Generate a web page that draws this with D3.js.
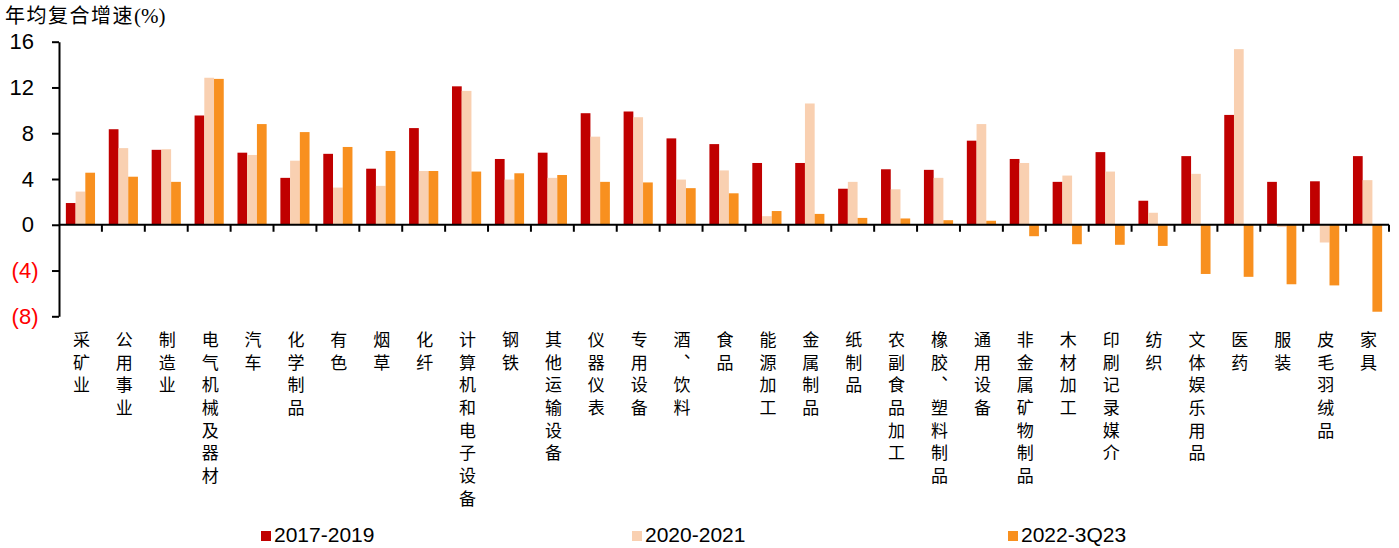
<!DOCTYPE html>
<html>
<head>
<meta charset="utf-8">
<script src="https://cdn.jsdelivr.net/npm/d3@7/dist/d3.min.js"></script>
<style>
  html, body { margin: 0; padding: 0; background: #fff; }
  svg { display: block; }
</style>
</head>
<body>
<svg id="chart" width="1399" height="548"></svg>
<script>
// Industry categories
const categories = [
  "采矿业", "公用事业", "制造业", "电气机械及器材", "汽车", "化学制品", "有色", "烟草",
  "化纤", "计算机和电子设备", "钢铁", "其他运输设备", "仪器仪表", "专用设备", "酒、饮料",
  "食品", "能源加工", "金属制品", "纸制品", "农副食品加工", "橡胶、塑料制品", "通用设备",
  "非金属矿物制品", "木材加工", "印刷记录媒介", "纺织", "文体娱乐用品", "医药", "服装",
  "皮毛羽绒品", "家具"
];

// Series names
const seriesNames = ["2017-2019", "2020-2021", "2022-3Q23"];

// CAGR values (%) per series, in category order
const values2017_2019 = [1.9, 8.35, 6.55, 9.55, 6.3, 4.1, 6.2, 4.9, 8.45, 12.1, 5.75, 6.3, 9.75, 9.9, 7.55,
  7.05, 5.4, 5.4, 3.15, 4.85, 4.8, 7.35, 5.75, 3.75, 6.35, 2.1, 6.0, 9.6, 3.75, 3.8, 6.0];
const values2020_2021 = [2.9, 6.7, 6.6, 12.85, 6.1, 5.6, 3.25, 3.4, 4.7, 11.7, 3.95, 4.1, 7.7, 9.4, 3.95,
  4.75, 0.75, 10.6, 3.75, 3.1, 4.1, 8.8, 5.4, 4.3, 4.65, 1.05, 4.45, 15.35, -0.2, -1.55, 3.9];
const values2022_3Q23 = [4.55, 4.2, 3.75, 12.75, 8.8, 8.1, 6.8, 6.45, 4.7, 4.65, 4.5, 4.35, 3.75, 3.7, 3.2,
  2.75, 1.2, 0.95, 0.6, 0.55, 0.4, 0.35, -1.0, -1.7, -1.75, -1.85, -4.3, -4.55, -5.2, -5.3, -7.6];

// Y-axis ticks
const yTicks = [-8, -4, 0, 4, 8, 12, 16];

const seriesValues = [values2017_2019, values2020_2021, values2022_3Q23];
const colors = ["#C00000", "#F9D0B1", "#F8901F"];

const svg = d3.select("#chart");
const plotLeft = 59, plotRight = 1389, plotTop = 41.7, plotBottom = 316.3;

const x0 = d3.scaleBand()
  .domain(categories)
  .range([plotLeft, plotRight])
  .paddingInner(0.32)
  .paddingOuter(0.16);

const x1 = d3.scaleBand()
  .domain(seriesNames)
  .range([0, x0.bandwidth()]);

const y = d3.scaleLinear().domain([-8, 16]).range([plotBottom, plotTop]);

const table = categories.map((c, i) => ({
  cat: c,
  vals: seriesNames.map((s, j) => ({ s, v: seriesValues[j][i], color: colors[j] }))
}));

// Bars
const groups = svg.append("g")
  .selectAll("g")
  .data(table)
  .join("g")
  .attr("transform", d => `translate(${x0(d.cat)},0)`);

groups.selectAll("rect")
  .data(d => d.vals)
  .join("rect")
  .attr("x", d => x1(d.s))
  .attr("width", x1.bandwidth())
  .attr("y", d => y(Math.max(0, d.v)))
  .attr("height", d => Math.abs(y(d.v) - y(0)))
  .attr("fill", d => d.color);

// Y axis
const yAxis = d3.axisLeft(y)
  .tickValues(yTicks)
  .tickSize(7)
  .tickSizeOuter(0)
  .tickPadding(18)
  .tickFormat(d => d < 0 ? `(${-d})` : `${d}`);

const gy = svg.append("g")
  .attr("transform", `translate(${plotLeft},0)`)
  .call(yAxis);
gy.select(".domain").attr("stroke", "#000").attr("stroke-width", 2);
gy.selectAll(".tick line").attr("stroke", "#000").attr("stroke-width", 2);
gy.selectAll(".tick text")
  .attr("font-family", "'Liberation Sans', Arial, sans-serif")
  .attr("font-size", 22)
  .attr("fill", d => d < 0 ? "#FF0000" : "#000")
  .attr("dx", d => d < 0 ? 4.5 : 0);

// Zero baseline with category boundary ticks
const step = x0.step();
const boundaries = d3.range(categories.length + 1).map(i => plotLeft + i * step);
svg.append("line")
  .attr("x1", plotLeft).attr("x2", plotRight)
  .attr("y1", y(0)).attr("y2", y(0))
  .attr("stroke", "#000").attr("stroke-width", 2);
svg.append("g")
  .selectAll("line")
  .data(boundaries.slice(1))
  .join("line")
  .attr("x1", d => d).attr("x2", d => d)
  .attr("y1", y(0)).attr("y2", y(0) + 7)
  .attr("stroke", "#000").attr("stroke-width", 2);

// Category labels, stacked vertically
svg.append("g")
  .selectAll("text")
  .data(categories)
  .join("text")
  .attr("x", d => x0(d) + x0.bandwidth() / 2 + 1)
  .attr("y", 331)
  .style("writing-mode", "vertical-rl")
  .style("letter-spacing", "5.7px")
  .attr("font-family", "'Noto Sans CJK SC', sans-serif")
  .attr("font-size", 17)
  .attr("fill", "#000")
  .text(d => d);

// Title
const title = svg.append("text")
  .attr("x", 5)
  .attr("y", 22.5)
  .attr("font-family", "'Noto Sans CJK SC', sans-serif")
  .attr("font-size", 20)
  .style("letter-spacing", "1.5px")
  .attr("fill", "#000");
title.append("tspan").text("年均复合增速");
title.append("tspan")
  .attr("font-family", "'Liberation Serif', 'Times New Roman', serif")
  .attr("font-size", 21)
  .style("letter-spacing", "0px")
  .text("(%)");

// Legend
const legendX = [261, 632, 1008];
const legend = svg.append("g")
  .selectAll("g")
  .data(seriesNames)
  .join("g")
  .attr("transform", (d, i) => `translate(${legendX[i]},531)`);
legend.append("rect")
  .attr("width", 10).attr("height", 10)
  .attr("fill", (d, i) => colors[i]);
legend.append("text")
  .attr("x", 13)
  .attr("y", 10.5)
  .attr("font-family", "'Liberation Sans', Arial, sans-serif")
  .attr("font-size", 21)
  .attr("fill", "#000")
  .text(d => d);
</script>
</body>
</html>
